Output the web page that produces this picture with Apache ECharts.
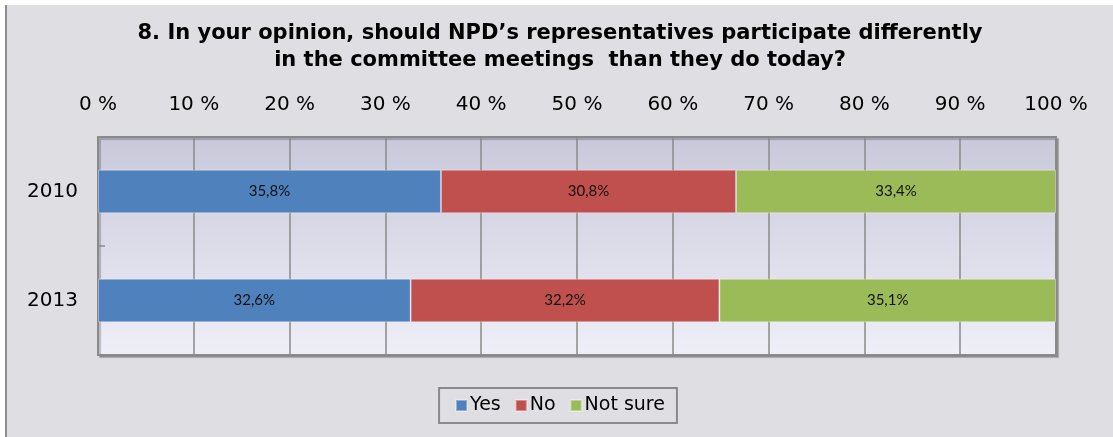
<!DOCTYPE html>
<html>
<head>
<meta charset="utf-8">
<script src="https://cdn.jsdelivr.net/npm/echarts@6/dist/echarts.min.js"></script>
<style>
  html, body { margin: 0; padding: 0; background: #ffffff; width: 1113px; height: 437px; overflow: hidden; }
  #chart { position: absolute; left: 5px; top: 5px; width: 1106px; height: 432px; border-left: 2px solid #8d8d8d; }
</style>
</head>
<body>
<div id="chart"></div>
<script>
const categories = ['2010', '2013'];
const seriesNames = ['Yes', 'No', 'Not sure'];
const yesValues = [35.8, 32.6];
const noValues = [30.8, 32.2];
const notSureValues = [33.4, 35.1];
const xTicks = [0, 10, 20, 30, 40, 50, 60, 70, 80, 90, 100];
const colors = ['#4f81bd', '#c0504d', '#9bbb59'];

const raw = [yesValues, noValues, notSureValues];
const totals = categories.map((c, i) => raw.reduce((s, arr) => s + arr[i], 0));

const chart = echarts.init(document.getElementById('chart'), null, { renderer: 'canvas' });
chart.setOption({
  backgroundColor: '#dfdee3',
  animation: false,
  title: {
    text: '8. In your opinion, should NPD\u2019s representatives participate differently\nin the committee meetings  than they do today?',
    left: 'center',
    top: 10,
    textStyle: { fontFamily: 'DejaVu Sans', fontWeight: 'bold', fontSize: 21, lineHeight: 27, color: '#000' }
  },
  legend: {
    data: seriesNames,
    bottom: 14,
    left: 'center',
    icon: 'rect',
    itemWidth: 11,
    itemHeight: 11,
    itemGap: 14,
    padding: [8, 12, 8, 16],
    borderColor: '#8a8a8a',
    borderWidth: 2,
    textStyle: { fontFamily: 'DejaVu Sans', fontSize: 19, color: '#000', padding: [0, 0, 0, -2] }
  },
  grid: {
    left: 91, right: 57, top: 132, bottom: 82,
    show: true,
    borderColor: '#8a8a8a',
    borderWidth: 2,
    shadowColor: 'rgba(0,0,0,0.22)',
    shadowBlur: 1,
    shadowOffsetX: 2,
    shadowOffsetY: 2,
    backgroundColor: new echarts.graphic.LinearGradient(0, 0, 0, 1, [
      { offset: 0, color: '#c9c8da' },
      { offset: 1, color: '#efeff8' }
    ])
  },
  xAxis: {
    type: 'value',
    position: 'top',
    min: xTicks[0],
    max: xTicks[xTicks.length - 1],
    interval: 10,
    axisLine: { show: false },
    axisTick: { show: false },
    axisLabel: {
      formatter: v => v + ' %',
      fontFamily: 'DejaVu Sans',
      fontSize: 20,
      color: '#000',
      margin: 22
    },
    splitLine: { show: true, lineStyle: { color: '#8a8a8a', width: 1.5 } }
  },
  yAxis: {
    type: 'category',
    data: categories,
    inverse: true,
    axisLine: { show: true, lineStyle: { color: '#8a8a8a', width: 2 } },
    axisTick: { show: true, inside: true, length: 7, lineStyle: { color: '#8a8a8a', width: 1.5 } },
    axisLabel: { fontFamily: 'DejaVu Sans', fontSize: 20, color: '#000', margin: 20 },
    splitLine: { show: false }
  },
  series: seriesNames.map((name, k) => ({
    name: name,
    type: 'bar',
    stack: 'total',
    barWidth: '40%',
    itemStyle: { color: colors[k], borderColor: 'rgba(255,255,255,0.35)', borderWidth: 1 },
    label: {
      show: true,
      position: 'inside',
      fontFamily: 'Lato',
      fontSize: 15,
      color: '#111',
      formatter: p => raw[k][p.dataIndex].toFixed(1).replace('.', ',') + '%'
    },
    data: raw[k].map((v, i) => v / totals[i] * 100)
  }))
});
</script>
</body>
</html>
